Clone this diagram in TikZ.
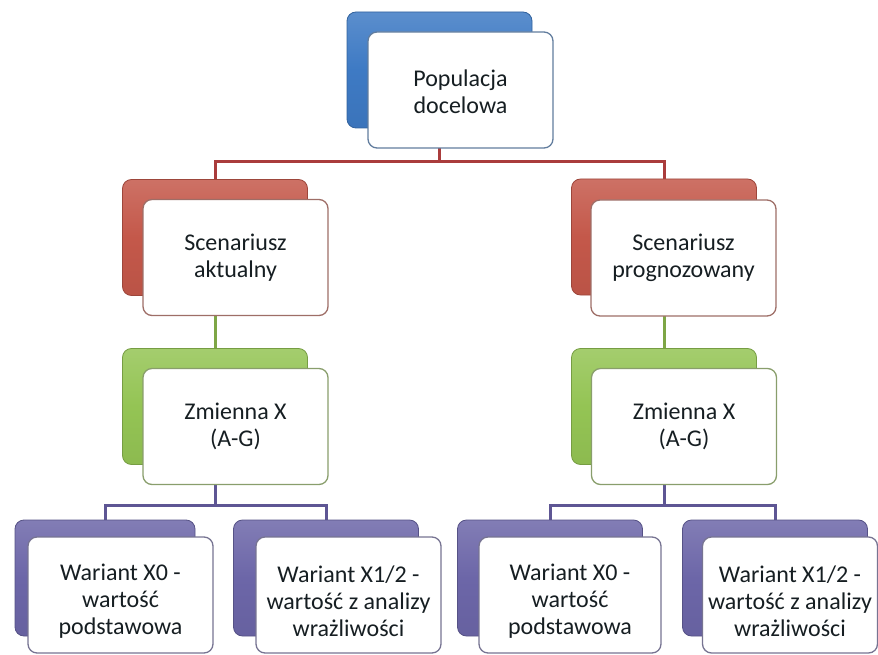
\documentclass[tikz,border=0pt]{standalone}
\usepackage{fontspec}
\setmainfont{Carlito}
\usetikzlibrary{calc}
\pgfdeclarelayer{background}
\pgfsetlayers{background,main}
\definecolor{cblue}{RGB}{62,122,196}
\definecolor{cred}{RGB}{196,88,74}
\definecolor{cgreen}{RGB}{148,196,84}
\definecolor{cpurple}{RGB}{108,102,168}
\definecolor{lred}{RGB}{170,60,60}
\definecolor{lgreen}{RGB}{126,166,70}
\definecolor{lpurple}{RGB}{94,86,148}
\definecolor{txt}{RGB}{22,30,34}
\newcommand{\lowtext}{\rule{0pt}{29pt}}
\tikzset{
  backbox/.style={draw=#1!80!black, line width=0.8pt, rounded corners=9pt,
    top color=#1!85!white, bottom color=#1!95!black, middle color=#1,
    minimum width=185pt, minimum height=116pt, inner sep=0pt},
  frontbox/.style={draw=#1!45!gray, line width=1.3pt, fill=white, rounded corners=9pt,
    minimum width=185pt, minimum height=116pt, inner sep=0pt, align=center,
    font=\fontsize{24}{27}\selectfont, text=txt},
  conn/.style={draw=#1, line width=3pt},
}
\begin{document}
\begin{tikzpicture}[x=1pt,y=-1pt]
\useasboundingbox (0,0) rectangle (878,655);
% top
\node[backbox=cblue] (popb) at (439.5,70) {};
\node[frontbox=cblue] (popf) at (460.5,90) {\rule{0pt}{21pt}Populacja\\docelowa};
% scenarios
\node[backbox=cred] (sab) at (215,237.5) {};
\node[frontbox=cred] (saf) at (235.5,257.5) {Scenariusz\\aktualny};
\node[backbox=cred] (spb) at (664,237) {};
\node[frontbox=cred] (spf) at (683.5,258) {Scenariusz\\prognozowany};
% variables
\node[backbox=cgreen] (zab) at (215,406.5) {};
\node[frontbox=cgreen] (zaf) at (235.5,426.5) {Zmienna X\\(A-G)};
\node[backbox=cgreen] (zpb) at (664,406.5) {};
\node[frontbox=cgreen] (zpf) at (684,426.5) {Zmienna X\\(A-G)};
% variants
\node[backbox=cpurple, minimum width=180pt] (v1b) at (105,578) {};
\node[frontbox=cpurple] (v1f) at (120.5,595) {\lowtext Wariant X0 -\\wartość\\podstawowa};
\node[backbox=cpurple] (v2b) at (326,578) {};
\node[frontbox=cpurple] (v2f) at (348.5,595) {\lowtext Wariant X1/2 -\\wartość z analizy\\wrażliwości};
\node[backbox=cpurple] (v3b) at (550,578) {};
\node[frontbox=cpurple, minimum width=182pt] (v3f) at (570,595) {\lowtext Wariant X0 -\\wartość\\podstawowa};
\node[backbox=cpurple] (v4b) at (775,578) {};
\node[frontbox=cpurple, minimum width=175pt] (v4f) at (790,595) {\lowtext Wariant X1/2 -\\wartość z analizy\\wrażliwości};
% bus coordinates
\coordinate (bus1) at (0,162);
\coordinate (bus3) at (0,505);
\begin{pgfonlayer}{background}
\draw[conn=lred] (popb.center) -- (popb.center |- bus1) -| (sab.north);
\draw[conn=lred] (popb.center |- bus1) -| (spb.north);
\draw[conn=lgreen] (sab.center) -- (zab.north);
\draw[conn=lgreen] (spb.center) -- (zpb.north);
\draw[conn=lpurple] (zab.center) -- (zab.center |- bus3) -| (v1b.north);
\draw[conn=lpurple] (zab.center |- bus3) -| (v2b.north);
\draw[conn=lpurple] (zpb.center) -- (zpb.center |- bus3) -| (v3b.north);
\draw[conn=lpurple] (zpb.center |- bus3) -| (v4b.north);
\end{pgfonlayer}
\end{tikzpicture}
\end{document}
